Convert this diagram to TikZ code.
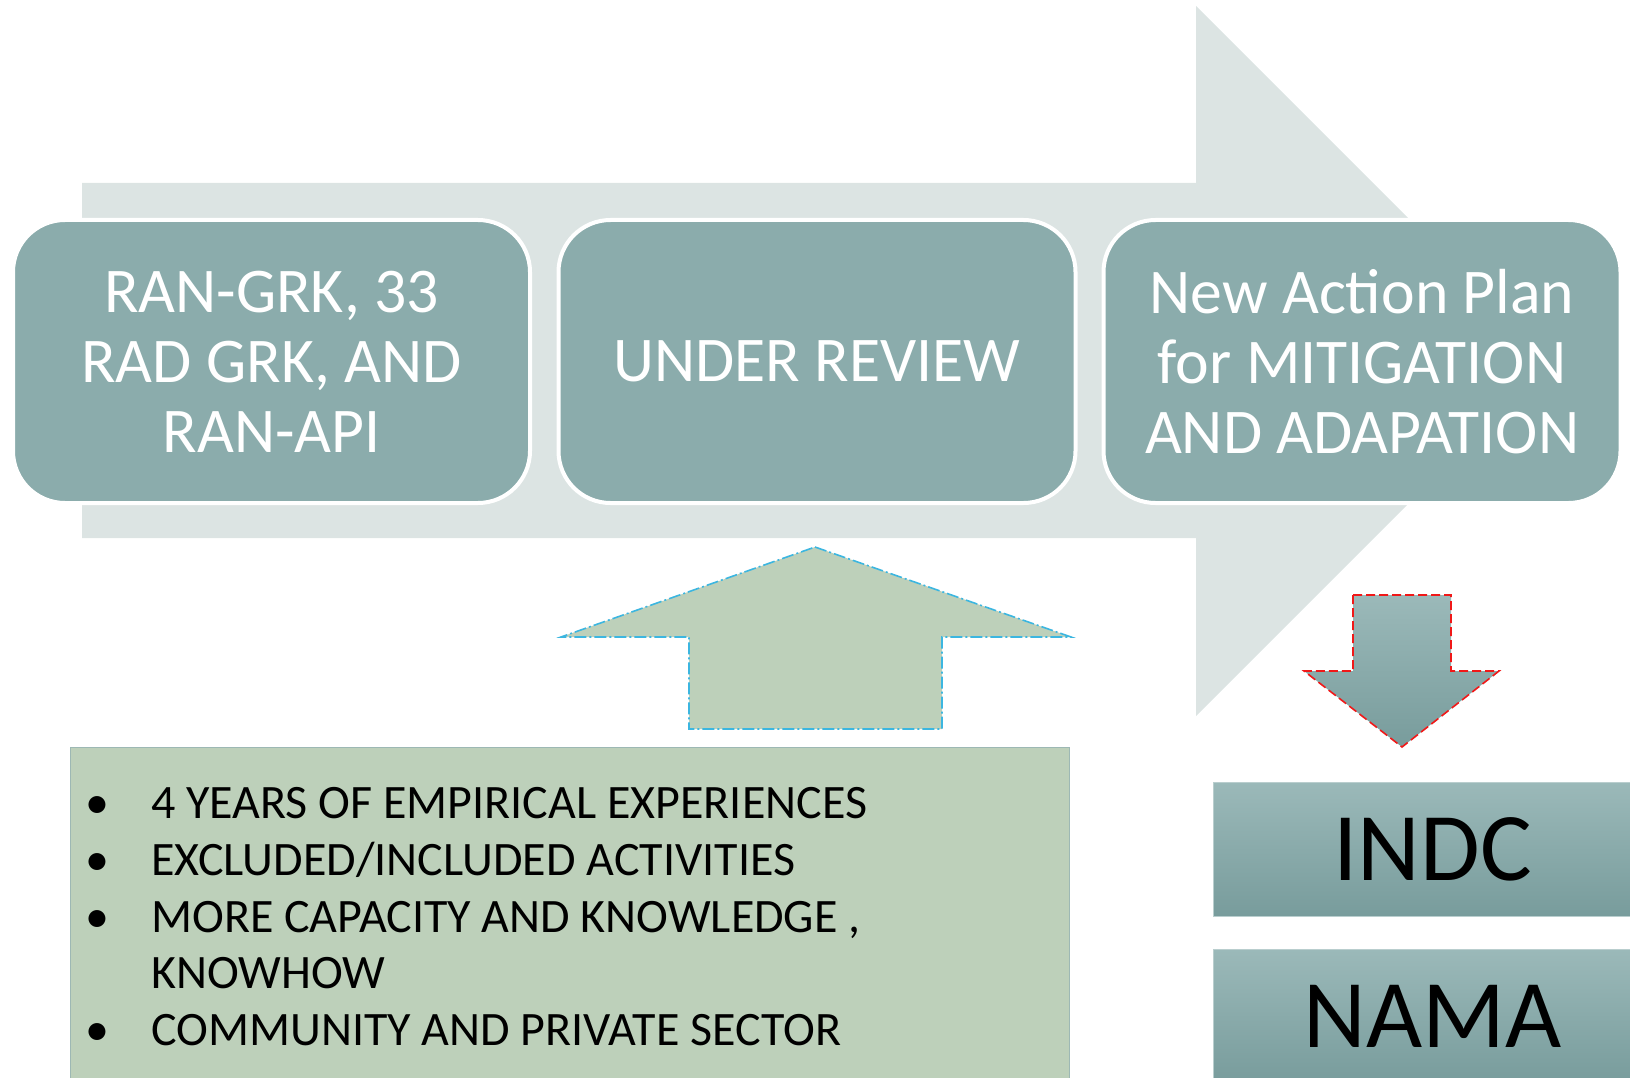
\documentclass[tikz,border=0pt]{standalone}
\usepackage{fontspec}
\setmainfont{Carlito}
\definecolor{arrowgray}{HTML}{DCE4E3}
\definecolor{stagefill}{HTML}{8BACAC}
\definecolor{greenfill}{HTML}{BDD0BA}
\definecolor{greenline}{HTML}{9DB8B4}
\definecolor{cyanline}{HTML}{3CB6E0}
\definecolor{redline}{HTML}{F01818}
\definecolor{gradtop}{HTML}{9BB9B9}
\definecolor{gradbot}{HTML}{789C9C}
\tikzset{
  stagebox/.style={rectangle, rounded corners=52pt, fill=stagefill, draw=white, line width=4pt,
    minimum width=517pt, minimum height=283pt, inner sep=0pt, align=center, text=white,
    font=\fontsize{63.7}{70}\selectfont},
  resultbox/.style={rectangle, draw=gradtop!70!white, line width=1pt, top color=gradtop, bottom color=gradbot,
    minimum width=439pt, minimum height=134pt, inner sep=0pt, font=\fontsize{97}{110}\selectfont},
  bulletdot/.style={anchor=base, inner sep=0pt, font=\fontsize{48}{57}\selectfont},
  bullettext/.style={anchor=base west, inner sep=0pt, font=\fontsize{48}{57}\selectfont},
}
\begin{document}
\begin{tikzpicture}[x=1pt,y=-1pt]
\useasboundingbox (0,0) rectangle (1630,1078);
% big background arrow
\fill[arrowgray] (82,183) -- (1196,183) -- (1196,6) -- (1551,361) -- (1196,716) -- (1196,538) -- (82,538) -- cycle;
% stage boxes
\node[stagebox] (b1) at (271.5,361.5) {RAN-GRK, 33\\RAD GRK, AND\\RAN-API};
\node[stagebox] (b2) at (817,361.5) {UNDER REVIEW};
\node[stagebox] (b3) at (1362,361.5) {New Action Plan\\for MITIGATION\\AND ADAPATION};
% up arrow
\draw[fill=greenfill, draw=cyanline, line width=1.6pt, dash pattern=on 12pt off 3pt on 2pt off 3pt]
  (815,547) -- (1071,637) -- (942,637) -- (942,729) -- (689,729) -- (689,637) -- (561,637) -- cycle;
% down arrow
\draw[top color=gradtop, bottom color=gradbot, draw=redline, line width=1.6pt, dash pattern=on 9pt off 4pt]
  (1353,595) -- (1451,595) -- (1451,671) -- (1499,671) -- (1402,747) -- (1304,671) -- (1353,671) -- cycle;
% bullet box
\node[rectangle, fill=greenfill, draw=greenline, line width=1.2pt, minimum width=999pt, minimum height=340pt,
  inner sep=0pt, anchor=north west] (lst) at (70,747) {};
\node[bulletdot] (d1) at (97,818) {•};
\node[bullettext] (t1) at (151,818) {4 YEARS OF EMPIRICAL EXPERIENCES};
\node[bulletdot] (d2) at (97,875) {•};
\node[bullettext] (t2) at (151,875) {EXCLUDED/INCLUDED ACTIVITIES};
\node[bulletdot] (d3) at (97,932) {•};
\node[bullettext] (t3) at (151,932) {MORE CAPACITY AND KNOWLEDGE ,};
\node[bullettext] (t4) at (151,988) {KNOWHOW};
\node[bulletdot] (d5) at (97,1045) {•};
\node[bullettext] (t5) at (151,1045) {COMMUNITY AND PRIVATE SECTOR};
% result boxes
\node[resultbox] (indc) at (1432.5,849) {INDC};
\node[resultbox] (nama) at (1432.5,1016) {NAMA};
\end{tikzpicture}
\end{document}
